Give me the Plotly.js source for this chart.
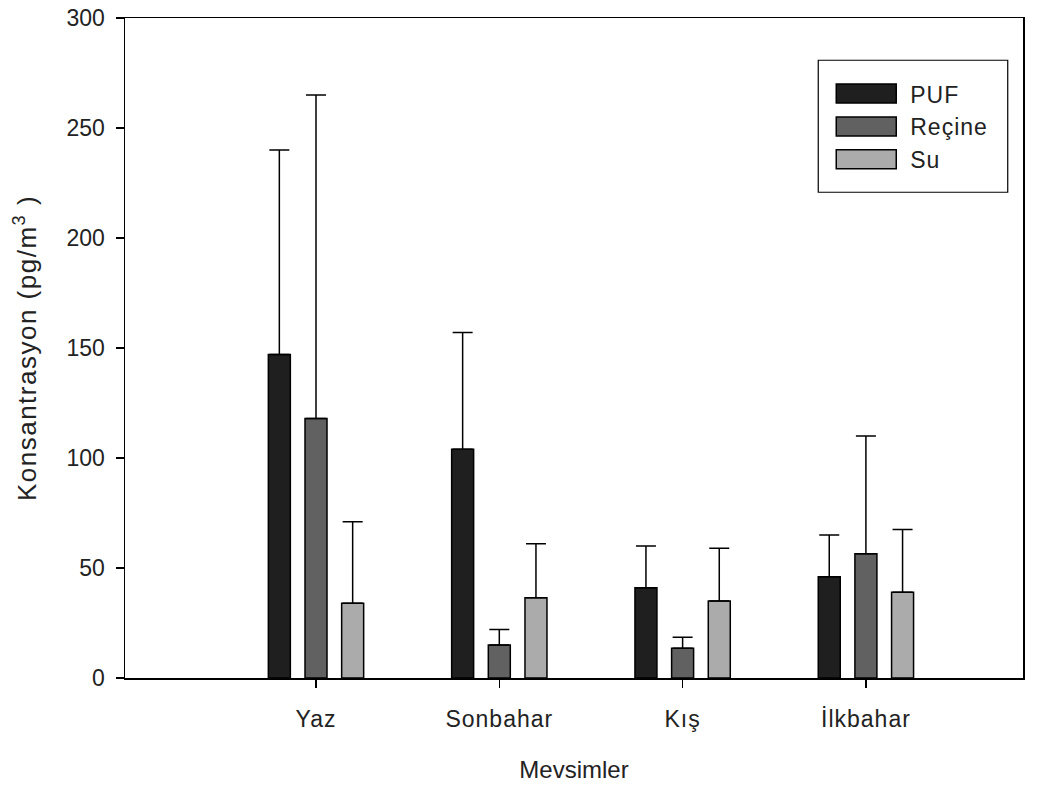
<!DOCTYPE html>
<html>
<head>
<meta charset="utf-8">
<script src="https://cdn.plot.ly/plotly-3.0.1.min.js"></script>
<style>html,body{margin:0;padding:0;background:#fff;}#chart{width:1047px;height:785px;}
.ytitle{letter-spacing:1.5px;}
.xtick text{letter-spacing:1px;}
.legendtext{letter-spacing:1px;}
</style>
</head>
<body>
<div id="chart"></div>
<script>
const categories = ["Yaz", "Sonbahar", "Kış", "İlkbahar"];
const seriesNames = ["PUF", "Reçine", "Su"];
const pufValues = [147, 104, 41, 46];
const pufErrors = [93, 53, 19, 19];
const recineValues = [118, 15, 13.5, 56.5];
const recineErrors = [147, 7, 5, 53.5];
const suValues = [34, 36.5, 35, 39];
const suErrors = [37, 24.5, 24, 28.5];
const colors = ["#1f1f1f", "#616161", "#ababab"];

const vals = [pufValues, recineValues, suValues];
const errs = [pufErrors, recineErrors, suErrors];

const traces = seriesNames.map((name, i) => ({
  type: "bar",
  name: name,
  x: categories,
  y: vals[i],
  marker: {color: colors[i], line: {color: "#000", width: 1.5}},
  error_y: {type: "data", array: errs[i], arrayminus: errs[i].map(() => 0), symmetric: false,
            color: "#000", thickness: 1.5, width: 10}
}));

const font = {family: "Liberation Sans, Arial, sans-serif", color: "#222"};

const layout = {
  width: 1047, height: 785,
  margin: {l: 125, r: 24, t: 18, b: 107},
  paper_bgcolor: "#fff", plot_bgcolor: "#fff",
  barmode: "group", bargap: 0.4, bargroupgap: 0.4,
  font: Object.assign({size: 22}, font),
  showlegend: true,
  legend: {x: 0.772, y: 0.918, xanchor: "left", yanchor: "top",
           borderwidth: 0, bgcolor: "rgba(0,0,0,0)",
           font: Object.assign({size: 23}, font),
           itemwidth: 82},
  shapes: [{type: "rect", xref: "paper", yref: "paper",
            x0: 0.772, x1: 0.983, y0: 0.736, y1: 0.936,
            line: {color: "#000", width: 1.2}, fillcolor: "rgba(0,0,0,0)", layer: "below"}],
  xaxis: {type: "category", range: [-1.042, 3.857], showgrid: false, zeroline: false,
          showline: true, mirror: true, linecolor: "#000", linewidth: 1.5,
          ticks: "outside", ticklen: 8, tickwidth: 1.5, tickcolor: "#000",
          ticklabelstandoff: 12,
          tickfont: Object.assign({size: 23}, font),
          title: {text: "Mevsimler", font: Object.assign({size: 24}, font), standoff: 30}},
  yaxis: {range: [0, 300], dtick: 50, showgrid: false, zeroline: false,
          showline: true, mirror: true, linecolor: "#000", linewidth: 1.5,
          ticks: "outside", ticklen: 8, tickwidth: 1.5, tickcolor: "#000",
          ticklabelstandoff: 6,
          tickfont: Object.assign({size: 23}, font),
          title: {text: "Konsantrasyon (pg/m<sup>3</sup> )", font: Object.assign({size: 26}, font), standoff: 22}}
};

Plotly.newPlot("chart", traces, layout, {displayModeBar: false, staticPlot: true}).then(gd => {
  gd.querySelectorAll(".legend .legendpoints path").forEach(p => {
    p.setAttribute("d", "M32,9.5H-28V-9.5H32Z");
  });
});
</script>
</body>
</html>
